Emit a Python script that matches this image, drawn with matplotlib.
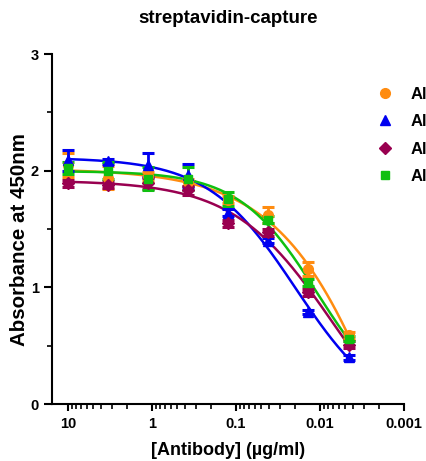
import numpy as np
import matplotlib
matplotlib.use("Agg")
import matplotlib.pyplot as plt
from matplotlib.lines import Line2D
from matplotlib.ticker import LogLocator, FixedLocator, NullFormatter

plt.rcParams['font.family'] = ['Liberation Sans', 'DejaVu Sans']
plt.rcParams['font.weight'] = 'bold'

# antibody dilution series (ug/ml), 1:3 steps
conc = [10, 3.333, 1.111, 0.3704, 0.1235, 0.04115, 0.01372, 0.004572]

labels = ["Al-1", "Al-2", "Al-3", "Al-4"]
colors = ["#FF8C10", "#0000F0", "#990050", "#10C010"]
markers = ["o", "^", "D", "s"]
msizes = [7, 7, 6, 6]

mean_1 = [2.05, 1.94, 1.95, 1.90, 1.75, 1.62, 1.16, 0.59]
sd_1 = [0.10, 0.10, 0.04, 0.03, 0.03, 0.07, 0.06, 0.03]
mean_2 = [2.09, 2.08, 2.05, 1.96, 1.64, 1.40, 0.79, 0.40]
sd_2 = [0.09, 0.02, 0.10, 0.10, 0.03, 0.02, 0.02, 0.02]
mean_3 = [1.89, 1.88, 1.89, 1.83, 1.55, 1.47, 0.96, 0.51]
sd_3 = [0.03, 0.03, 0.05, 0.04, 0.03, 0.03, 0.03, 0.03]
mean_4 = [2.02, 2.00, 1.93, 1.93, 1.76, 1.58, 1.04, 0.56]
sd_4 = [0.05, 0.07, 0.10, 0.10, 0.06, 0.03, 0.03, 0.02]

means = [mean_1, mean_2, mean_3, mean_4]
sds = [sd_1, sd_2, sd_3, sd_4]


def fit_4pl(x, y):
    # grid over logEC50 / hill, top and bottom solved by linear least squares
    lx = np.log10(np.asarray(x))
    y = np.asarray(y)
    lec = np.arange(-3.5, 0.5, 0.005)
    hill = np.arange(0.3, 3.0, 0.01)
    L, H = np.meshgrid(lec, hill, indexing="ij")
    f = 1.0 / (1.0 + 10 ** ((L[..., None] - lx) * H[..., None]))
    g = 1.0 - f
    sff = (f * f).sum(-1)
    sgg = (g * g).sum(-1)
    sfg = (f * g).sum(-1)
    sfy = (f * y).sum(-1)
    sgy = (g * y).sum(-1)
    det = sff * sgg - sfg ** 2
    top = (sfy * sgg - sgy * sfg) / det
    bot = (sgy * sff - sfy * sfg) / det
    res = ((top[..., None] * f + bot[..., None] * g - y) ** 2).sum(-1)
    i, j = np.unravel_index(np.argmin(res), res.shape)
    return top[i, j], bot[i, j], lec[i], hill[j]


def curve(xx, top, bot, lec, h):
    return bot + (top - bot) / (1.0 + 10 ** ((lec - np.log10(xx)) * h))


fig = plt.figure(figsize=(4.26, 4.61), dpi=100)
ax = fig.add_axes([52 / 426, 1 - 404 / 461, 352 / 426, 350 / 461])

xx = np.logspace(np.log10(conc[0]), np.log10(conc[-1]), 300)
handles = []
for m, s, c, mk, ms, lab in zip(means, sds, colors, markers, msizes, labels):
    p = fit_4pl(conc, m)
    ax.plot(xx, curve(xx, *p), color=c, lw=1.8, zorder=2)
    ax.errorbar(conc, m, yerr=s, fmt=mk, color=c, ms=ms, mec=c,
                elinewidth=2, capsize=4.5, capthick=2.2, zorder=3)
    handles.append(Line2D([], [], ls="none", marker=mk, color=c, ms=ms, label=lab))

ax.set_xscale("log")
ax.set_xlim(15.5, 0.001)
ax.set_ylim(0, 3)
ax.xaxis.set_major_locator(FixedLocator([10, 1, 0.1, 0.01, 0.001]))
ax.xaxis.set_minor_locator(LogLocator(base=10, subs=np.arange(2, 10)))
ax.xaxis.set_minor_formatter(NullFormatter())
ax.set_xticklabels(["10", "1", "0.1", "0.01", "0.001"])
ax.set_yticks([0, 1, 2, 3])
ax.set_yticks([0.5, 1.5, 2.5], minor=True)

for sp in ["top", "right"]:
    ax.spines[sp].set_visible(False)
for sp in ["left", "bottom"]:
    ax.spines[sp].set_linewidth(1.5)
ax.tick_params(which="major", length=6, width=1.5, labelsize=10.5)
ax.tick_params(which="minor", length=3.5, width=1.2)
ax.tick_params(axis="x", which="major", length=5, pad=4)

ax.set_title("streptavidin-capture", fontsize=13.5, fontweight="bold", pad=22)
ax.set_xlabel("[Antibody] (µg/ml)", fontsize=13, fontweight="bold", labelpad=8)
ax.set_ylabel("Absorbance at 450nm", fontsize=14.8, fontweight="bold")
ax.yaxis.set_label_coords(-0.064, 0.469)

fig.legend(handles=handles, loc="upper left", bbox_to_anchor=(0.884, 0.812),
           frameon=False, fontsize=12, handlelength=1.0, handletextpad=1.05,
           labelspacing=0.75, borderpad=0, borderaxespad=0)

fig.savefig("out.png", dpi=100)
